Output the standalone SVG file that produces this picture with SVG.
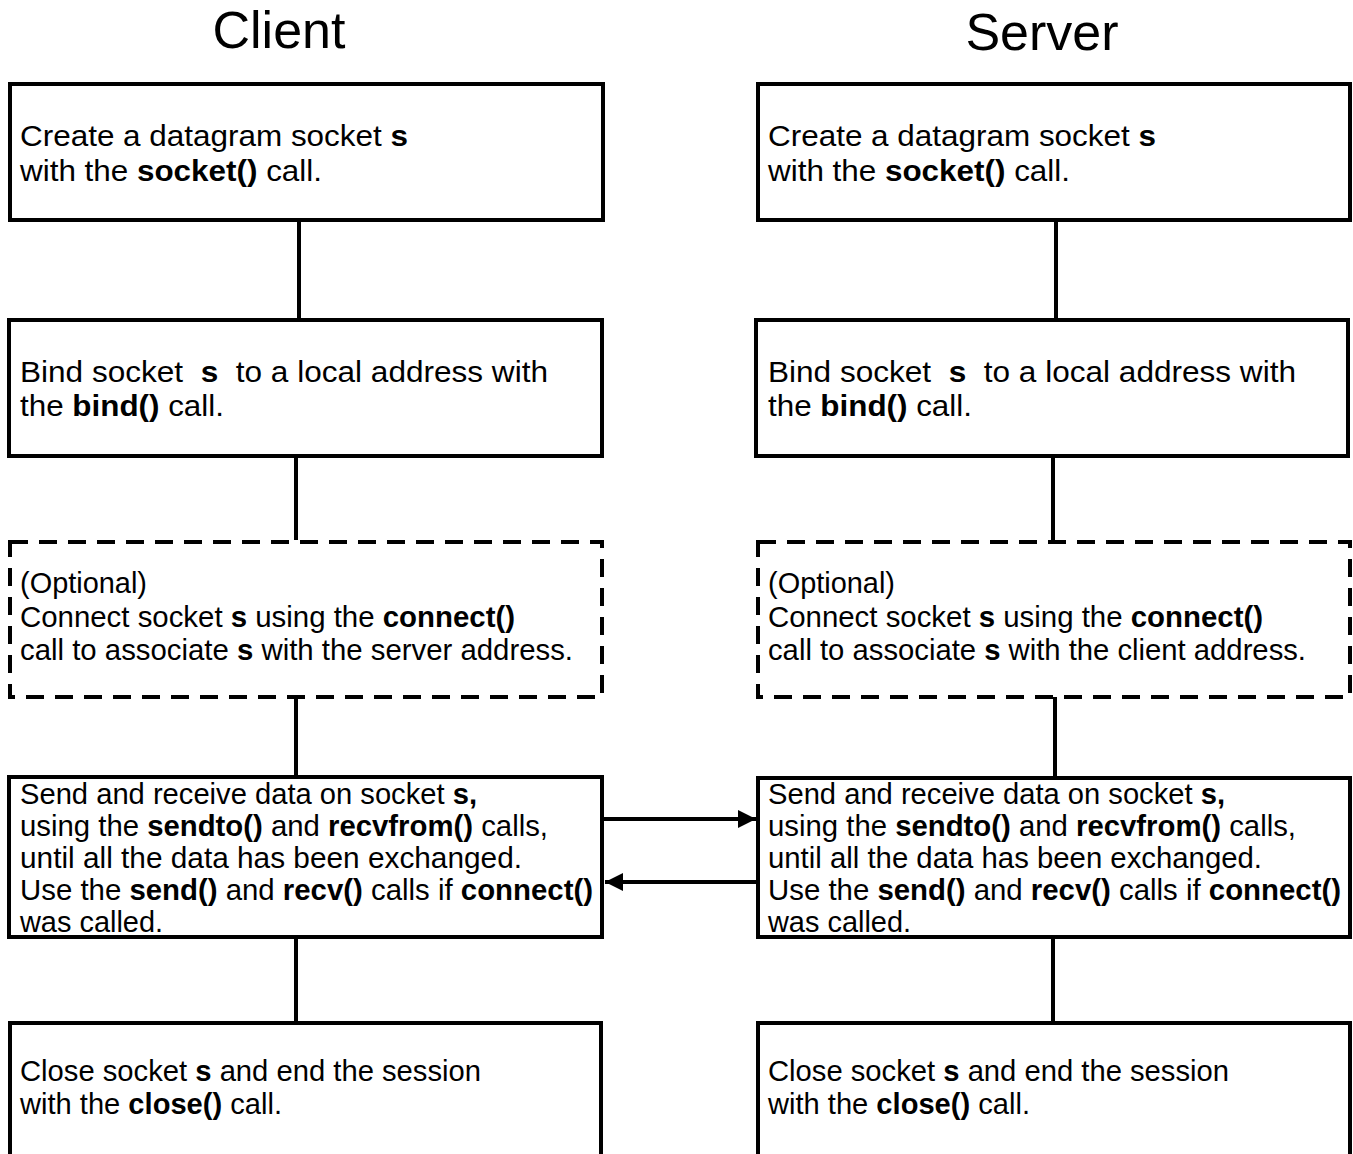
<svg xmlns="http://www.w3.org/2000/svg" width="1353" height="1154" viewBox="0 0 1353 1154">
<style>
.box{fill:#fff;stroke:#000;stroke-width:4}
.dash{stroke-dasharray:18 11}
.ln{stroke:#000;stroke-width:4;fill:none}
.t{font-family:"Liberation Sans",Arial,Helvetica,sans-serif;font-size:29px;fill:#000}
.b{font-weight:bold}
.title{font-family:"Liberation Sans",Arial,Helvetica,sans-serif;font-size:52px;fill:#000}
</style>
<defs>
<marker id="ah" viewBox="0 0 10 10" refX="10" refY="5" markerUnits="userSpaceOnUse" markerWidth="18" markerHeight="18" orient="auto">
<path d="M0,0 L10,5 L0,10 z" fill="#000"/>
</marker>
</defs>
<rect width="1353" height="1154" fill="#fff"/>
<g id="titles">
<text class="title" x="279" y="48" text-anchor="middle">Client</text>
<text class="title" x="1042" y="50" text-anchor="middle">Server</text>
</g>
<g id="connectors">
<line class="ln" x1="299" y1="220" x2="299" y2="319"/>
<line class="ln" x1="296" y1="456" x2="296" y2="540"/>
<line class="ln" x1="296" y1="697" x2="296" y2="776"/>
<line class="ln" x1="296" y1="937" x2="296" y2="1022"/>
<line class="ln" x1="1056" y1="220" x2="1056" y2="319"/>
<line class="ln" x1="1053" y1="456" x2="1053" y2="540"/>
<line class="ln" x1="1055" y1="697" x2="1055" y2="777"/>
<line class="ln" x1="1053" y1="937" x2="1053" y2="1022"/>
<line class="ln" x1="603" y1="819" x2="756" y2="819" marker-end="url(#ah)"/>
<line class="ln" x1="756" y1="882" x2="605" y2="882" marker-end="url(#ah)"/>
</g>
<g id="c1">
<rect class="box" x="10" y="84" width="593" height="136"/>
<text class="t" x="20" y="146" textLength="388" lengthAdjust="spacingAndGlyphs">Create a datagram socket <tspan class="b">s</tspan></text>
<text class="t" x="20" y="181" textLength="302" lengthAdjust="spacingAndGlyphs">with the <tspan class="b">socket()</tspan> call.</text>
</g>
<g id="c2">
<rect class="box" x="9" y="320" width="593" height="136"/>
<text class="t" x="20" y="382" textLength="528" lengthAdjust="spacingAndGlyphs" xml:space="preserve">Bind socket  <tspan class="b">s</tspan>  to a local address with</text>
<text class="t" x="20" y="416" textLength="204" lengthAdjust="spacingAndGlyphs">the <tspan class="b">bind()</tspan> call.</text>
</g>
<g id="c3">
<rect class="box dash" x="10" y="542" width="592" height="155"/>
<text class="t" x="20" y="593" textLength="127" lengthAdjust="spacingAndGlyphs">(Optional)</text>
<text class="t" x="20" y="627" textLength="495" lengthAdjust="spacingAndGlyphs">Connect socket <tspan class="b">s</tspan> using the <tspan class="b">connect()</tspan></text>
<text class="t" x="20" y="660" textLength="553" lengthAdjust="spacingAndGlyphs">call to associate <tspan class="b">s</tspan> with the server address.</text>
</g>
<g id="c4">
<rect class="box" x="9" y="777" width="593" height="160"/>
<text class="t" x="20" y="804" textLength="457" lengthAdjust="spacingAndGlyphs">Send and receive data on socket <tspan class="b">s,</tspan></text>
<text class="t" x="20" y="836" textLength="528" lengthAdjust="spacingAndGlyphs">using the <tspan class="b">sendto()</tspan> and <tspan class="b">recvfrom()</tspan> calls,</text>
<text class="t" x="20" y="868" textLength="502" lengthAdjust="spacingAndGlyphs">until all the data has been exchanged.</text>
<text class="t" x="20" y="900" textLength="573" lengthAdjust="spacingAndGlyphs">Use the <tspan class="b">send()</tspan> and <tspan class="b">recv()</tspan> calls if <tspan class="b">connect()</tspan></text>
<text class="t" x="20" y="932" textLength="143" lengthAdjust="spacingAndGlyphs">was called.</text>
</g>
<g id="c5">
<rect class="box" x="10" y="1023" width="591" height="160"/>
<text class="t" x="20" y="1081" textLength="461" lengthAdjust="spacingAndGlyphs">Close socket <tspan class="b">s</tspan> and end the session</text>
<text class="t" x="20" y="1114" textLength="262" lengthAdjust="spacingAndGlyphs">with the <tspan class="b">close()</tspan> call.</text>
</g>
<g id="s1">
<rect class="box" x="758" y="84" width="592" height="136"/>
<text class="t" x="768" y="146" textLength="388" lengthAdjust="spacingAndGlyphs">Create a datagram socket <tspan class="b">s</tspan></text>
<text class="t" x="768" y="181" textLength="302" lengthAdjust="spacingAndGlyphs">with the <tspan class="b">socket()</tspan> call.</text>
</g>
<g id="s2">
<rect class="box" x="756" y="320" width="592" height="136"/>
<text class="t" x="768" y="382" textLength="528" lengthAdjust="spacingAndGlyphs" xml:space="preserve">Bind socket  <tspan class="b">s</tspan>  to a local address with</text>
<text class="t" x="768" y="416" textLength="204" lengthAdjust="spacingAndGlyphs">the <tspan class="b">bind()</tspan> call.</text>
</g>
<g id="s3">
<rect class="box dash" x="758" y="542" width="592" height="155"/>
<text class="t" x="768" y="593" textLength="127" lengthAdjust="spacingAndGlyphs">(Optional)</text>
<text class="t" x="768" y="627" textLength="495" lengthAdjust="spacingAndGlyphs">Connect socket <tspan class="b">s</tspan> using the <tspan class="b">connect()</tspan></text>
<text class="t" x="768" y="660" textLength="538" lengthAdjust="spacingAndGlyphs">call to associate <tspan class="b">s</tspan> with the client address.</text>
</g>
<g id="s4">
<rect class="box" x="758" y="778" width="592" height="159"/>
<text class="t" x="768" y="804" textLength="457" lengthAdjust="spacingAndGlyphs">Send and receive data on socket <tspan class="b">s,</tspan></text>
<text class="t" x="768" y="836" textLength="528" lengthAdjust="spacingAndGlyphs">using the <tspan class="b">sendto()</tspan> and <tspan class="b">recvfrom()</tspan> calls,</text>
<text class="t" x="768" y="868" textLength="494" lengthAdjust="spacingAndGlyphs">until all the data has been exchanged.</text>
<text class="t" x="768" y="900" textLength="573" lengthAdjust="spacingAndGlyphs">Use the <tspan class="b">send()</tspan> and <tspan class="b">recv()</tspan> calls if <tspan class="b">connect()</tspan></text>
<text class="t" x="768" y="932" textLength="143" lengthAdjust="spacingAndGlyphs">was called.</text>
</g>
<g id="s5">
<rect class="box" x="758" y="1023" width="592" height="160"/>
<text class="t" x="768" y="1081" textLength="461" lengthAdjust="spacingAndGlyphs">Close socket <tspan class="b">s</tspan> and end the session</text>
<text class="t" x="768" y="1114" textLength="262" lengthAdjust="spacingAndGlyphs">with the <tspan class="b">close()</tspan> call.</text>
</g>
</svg>
